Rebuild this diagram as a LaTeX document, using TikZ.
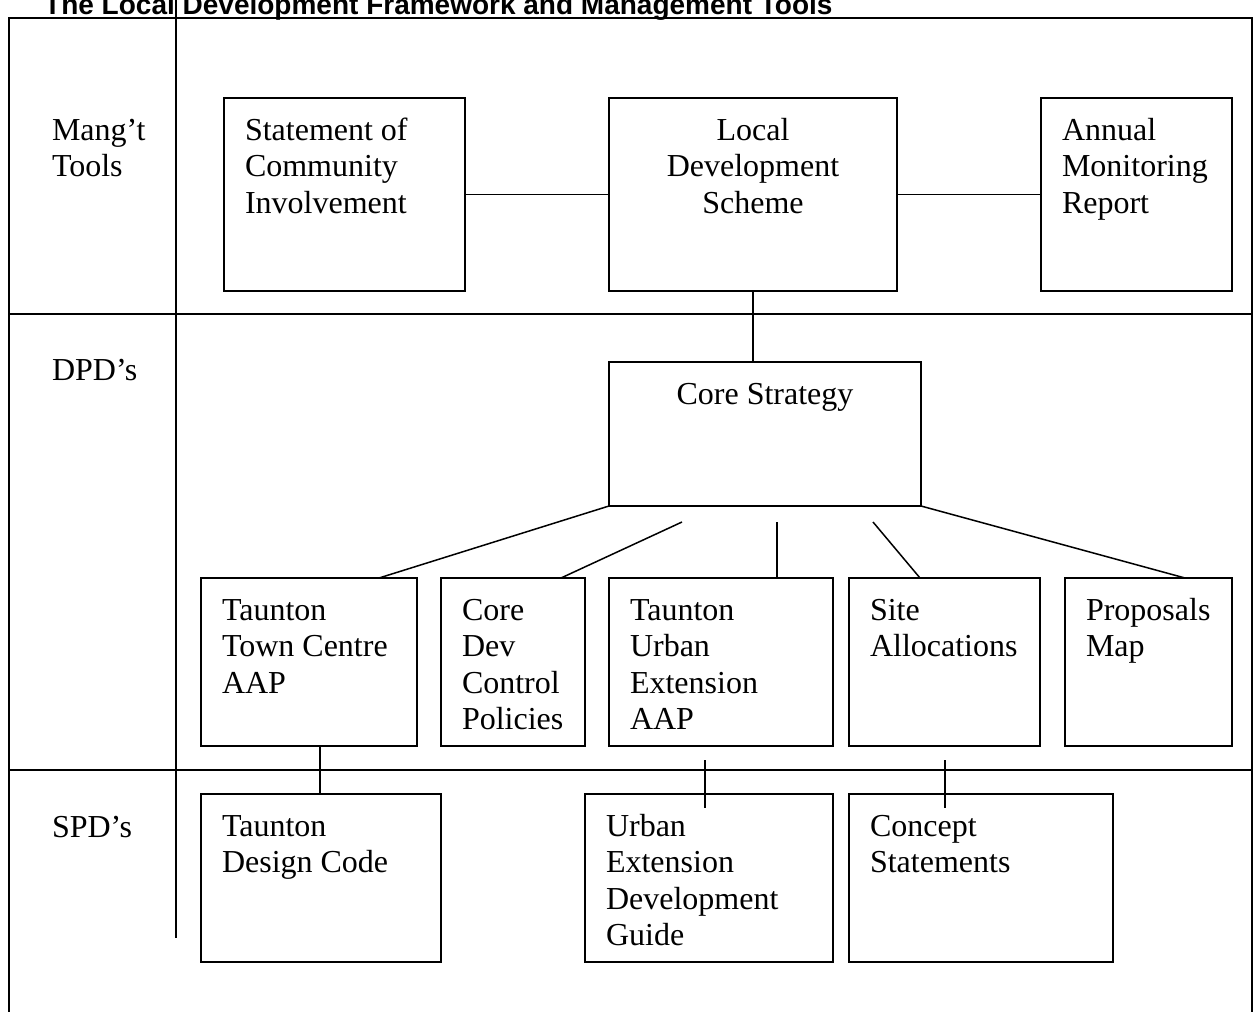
\documentclass[tikz,border=0pt]{standalone}
\usepackage{fontspec}
\setmainfont{Liberation Serif}
\newfontfamily\titlefont{Liberation Sans}
\usetikzlibrary{calc}
\newcommand{\btxt}[4]{\begin{minipage}[c][#2][t]{#1}#3\rule{0pt}{42pt}#4\par\end{minipage}}
\newcommand{\lft}{\leftskip=21pt\rightskip=0pt plus 1fil\parfillskip=0pt plus 1fil\relax}
\begin{document}
\begin{tikzpicture}[x=1pt,y=-1pt,
  font=\fontsize{32pt}{36.5pt}\selectfont,
  box/.style={draw, line width=1.5pt, inner sep=0pt, outer sep=0pt, anchor=north west},
  lbl/.style={inner sep=0pt, outer sep=0pt, anchor=north west},
  conn/.style={line width=1.5pt},
  rule/.style={line width=1.6pt}]
\clip (0,0) rectangle (1253,1012);
% title
\node[anchor=base west, inner sep=0pt, font=\titlefont\bfseries\fontsize{28pt}{32pt}\selectfont] (title) at (44,14) {The Local Development Framework and Management Tools};
% frame and grid
\coordinate (fbl) at (9,1020);
\coordinate (ftl) at (9,18);
\coordinate (ftr) at (1252,18);
\coordinate (fbr) at (1252,1020);
\draw[rule] (fbl) -- (ftl) -- (ftr) -- (fbr);
\coordinate (h1l) at (9,314); \coordinate (h1r) at (1252,314);
\coordinate (h2l) at (9,770); \coordinate (h2r) at (1252,770);
\draw[rule] (h1l) -- (h1r);
\draw[rule] (h2l) -- (h2r);
\coordinate (vt) at (176,0); \coordinate (vb) at (176,938);
\draw[rule] (vt) -- (vb);
% row labels
\node[lbl] (mt) at (52,98) {\btxt{120pt}{60pt}{\raggedright}{Mang’t\\Tools}};
\node[lbl] (dpd) at (52,338) {\btxt{120pt}{60pt}{\raggedright}{DPD’s}};
\node[lbl] (spd) at (52,795) {\btxt{120pt}{60pt}{\raggedright}{SPD’s}};
% management tools
\node[box] (sci) at (224,98) {\btxt{241pt}{193pt}{\lft}{Statement of\\Community\\Involvement}};
\node[box] (lds) at (609,98) {\btxt{288pt}{193pt}{\centering}{Local\\Development\\Scheme}};
\node[box] (amr) at (1041,98) {\btxt{191pt}{193pt}{\lft}{Annual\\Monitoring\\Report}};
% DPDs
\node[box] (core) at (609,362) {\btxt{312pt}{144pt}{\centering}{Core Strategy}};
\node[box] (ttc) at (201,578) {\btxt{216pt}{168pt}{\lft}{Taunton\\Town Centre\\AAP}};
\node[box] (cdcp) at (441,578) {\btxt{144pt}{168pt}{\lft}{Core\\Dev\\Control\\Policies}};
\node[box] (tue) at (609,578) {\btxt{224pt}{168pt}{\lft}{Taunton\\Urban\\Extension\\AAP}};
\node[box] (sa) at (849,578) {\btxt{191pt}{168pt}{\lft}{Site\\Allocations}};
\node[box] (pm) at (1065,578) {\btxt{167pt}{168pt}{\lft}{Proposals\\Map}};
% SPDs
\node[box] (tdc) at (201,794) {\btxt{240pt}{168pt}{\lft}{Taunton\\Design Code}};
\node[box] (uedg) at (585,794) {\btxt{248pt}{168pt}{\lft}{Urban\\Extension\\Development\\Guide}};
\node[box] (cs) at (849,794) {\btxt{264pt}{168pt}{\lft}{Concept\\Statements}};
% connectors
\draw[conn] (sci.east) -- (lds.west);
\draw[conn] (lds.east) -- (amr.west);
\draw[conn] (lds.south) -- (lds.south |- core.north);
\draw[conn] (core.south west) -- ($(ttc.north west)+(178,0)$);
\coordinate (f1) at (682,522);
\draw[conn] (f1) -- ($(cdcp.north west)+(120,0)$);
\coordinate (f2) at (777,522);
\draw[conn] (f2) -- (f2 |- tue.north);
\coordinate (f3) at (873,522);
\draw[conn] (f3) -- ($(sa.north west)+(71,0)$);
\draw[conn] (core.south east) -- ($(pm.north west)+(120,0)$);
\draw[conn] ($(ttc.south west)+(119,0)$) -- ($(tdc.north west)+(119,0)$);
\coordinate (g1t) at (705,760); \coordinate (g1b) at (705,808);
\draw[conn] (g1t) -- (g1b);
\coordinate (g2t) at (945,760); \coordinate (g2b) at (945,808);
\draw[conn] (g2t) -- (g2b);
\end{tikzpicture}
\end{document}
